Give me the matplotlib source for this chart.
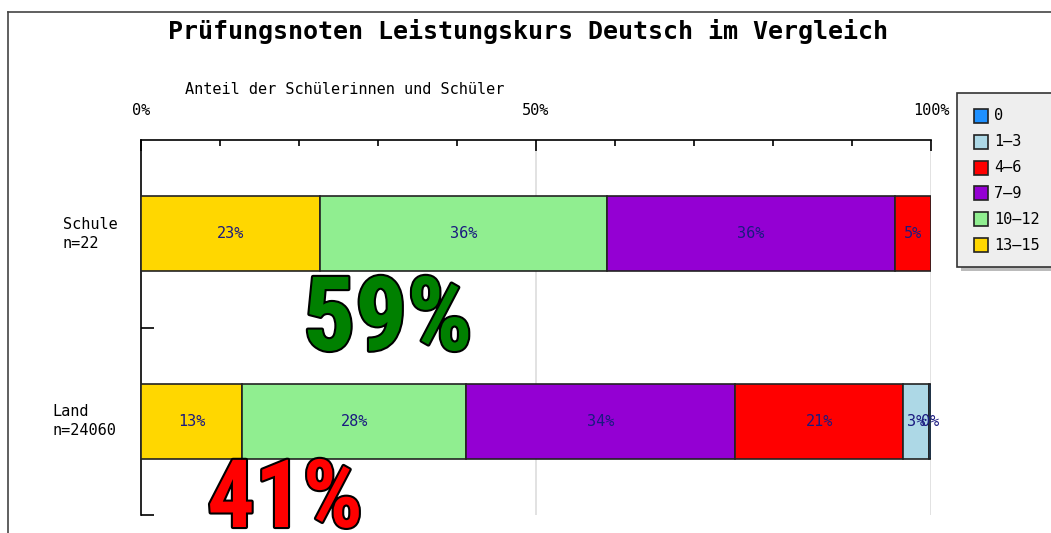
import matplotlib
matplotlib.use("Agg")
import matplotlib.pyplot as plt
import matplotlib.patheffects as pe
import matplotlib.transforms as mtransforms
from matplotlib import font_manager
from matplotlib.patches import Rectangle
from matplotlib.lines import Line2D

W, H = 1051, 533

categories = ["Schule\nn=22", "Land\nn=24060"]
grades = ["0", "1–3", "4–6", "7–9", "10–12", "13–15"]
colors = ["#1E90FF", "#ADD8E6", "#FF0000", "#9400D3", "#90EE90", "#FFD700"]
# stacking order on the bar (left to right): 13-15, 10-12, 7-9, 4-6, 1-3, 0
stack_order = ["13–15", "10–12", "7–9", "4–6", "1–3", "0"]
values = {
    "Schule\nn=22":   {"13–15": 22.7, "10–12": 36.3, "7–9": 36.4, "4–6": 4.6, "1–3": 0.0, "0": 0.0},
    "Land\nn=24060":  {"13–15": 12.8, "10–12": 28.4, "7–9": 34.0, "4–6": 21.3, "1–3": 3.2, "0": 0.3},
}
title = "Prüfungsnoten Leistungskurs Deutsch im Vergleich"
xlabel = "Anteil der Schülerinnen und Schüler"
xticks = [0, 50, 100]
xticklabels = ["0%", "50%", "100%"]
big_labels = [("59%", "#008000"), ("41%", "#FF0000")]

mono = ["DejaVu Sans Mono"]

# pick a condensed bold sans if available
available = {f.name for f in font_manager.fontManager.ttflist}
big_family = "Liberation Sans"
narrow = False
for cand in ["Liberation Sans Narrow", "Roboto Condensed", "Open Sans Condensed",
             "DejaVu Sans Condensed"]:
    if cand in available:
        big_family = cand
        narrow = True
        break
big_sizes = (74, 68) if narrow else (64, 58)

fig = plt.figure(figsize=(W / 100, H / 100), dpi=100)
fig.patch.set_facecolor("white")

# outer frame
fig.add_artist(Line2D([8 / W, 8 / W], [0, 1 - 12 / H], transform=fig.transFigure,
                      color="#444444", lw=1.2))
fig.add_artist(Line2D([8 / W, 1], [1 - 12 / H, 1 - 12 / H], transform=fig.transFigure,
                      color="#444444", lw=1.2))

ax = fig.add_axes([141 / W, 1 - 515 / H, (931 - 141) / W, (515 - 140) / H])
ax.set_xlim(0, 100)
ax.set_ylim(1.5, -0.5)

for i, cat in enumerate(categories):
    left = 0.0
    for g in stack_order:
        v = values[cat][g]
        if v <= 0:
            continue
        c = colors[grades.index(g)]
        ax.barh(i, v, left=left, height=0.4, color=c, edgecolor="#222222",
                linewidth=1.2, zorder=3)
        ax.text(left + v / 2, i, f"{int(v + 0.5)}%", ha="center", va="center",
                color="#1a1a80", fontsize=11, family=mono, zorder=4)
        left += v

# gridlines
for xv in [50, 100]:
    ax.axvline(xv, color="#dddddd", lw=1.2, zorder=1)

ax.spines["right"].set_visible(False)
ax.spines["bottom"].set_visible(False)
ax.spines["top"].set_linewidth(1.2)
ax.spines["left"].set_linewidth(1.2)

ax.xaxis.tick_top()
ax.set_xticks(xticks)
ax.set_xticklabels(xticklabels, family=mono, fontsize=11)
ax.set_xticks(range(0, 101, 10), minor=True)
ax.tick_params(axis="x", which="major", direction="in", length=8, width=1.2, pad=16)
ax.tick_params(axis="x", which="minor", direction="in", length=4, width=1.2)

ax.set_yticks([0.5, 1.5])
ax.set_yticklabels([])
ax.tick_params(axis="y", which="major", direction="in", length=9, width=1.2)
label_left_px = [63, 52]
blend = mtransforms.blended_transform_factory(fig.transFigure, ax.transData)
for i, cat in enumerate(categories):
    fig.text(label_left_px[i] / W, i, cat, ha="left", va="center",
             fontsize=11, family=mono, linespacing=1.3, transform=blend)

fig.text(528 / W, 1 - 32 / H, title, ha="center", va="center", fontsize=18,
         family=mono, fontweight="bold")
fig.text(185 / W, 1 - 90 / H, xlabel, ha="left", va="center", fontsize=11, family=mono)

# legend
lx, ly, lw_, lh = 957, 93, 110, 174
fig.add_artist(Rectangle(((lx + 4) / W, 1 - (ly + lh + 4) / H), lw_ / W, lh / H,
                         transform=fig.transFigure, facecolor="#bbbbbb", edgecolor="none"))
fig.add_artist(Rectangle((lx / W, 1 - (ly + lh) / H), lw_ / W, lh / H,
                         transform=fig.transFigure, facecolor="#eeeeee", edgecolor="#333333",
                         lw=1.2))
for k, g in enumerate(grades):
    yc = 116 + k * 25.8
    fig.add_artist(Rectangle((974 / W, 1 - (yc + 7) / H), 14 / W, 14 / H,
                             transform=fig.transFigure, facecolor=colors[k],
                             edgecolor="#222222", lw=1.2))
    fig.text(994 / W, 1 - yc / H, g, ha="left", va="center", fontsize=11, family=mono)

# big annotations
stroke = [pe.withStroke(linewidth=3, foreground="black")]
fig.text(388 / W, 1 - 350 / H, big_labels[0][0], ha="center", va="baseline",
         fontsize=big_sizes[0], fontweight="bold", color=big_labels[0][1],
         family=big_family, path_effects=stroke)
fig.text(285 / W, 1 - 527 / H, big_labels[1][0], ha="center", va="baseline",
         fontsize=big_sizes[1], fontweight="bold", color=big_labels[1][1],
         family=big_family, path_effects=stroke)

fig.savefig("out.png", dpi=100)
